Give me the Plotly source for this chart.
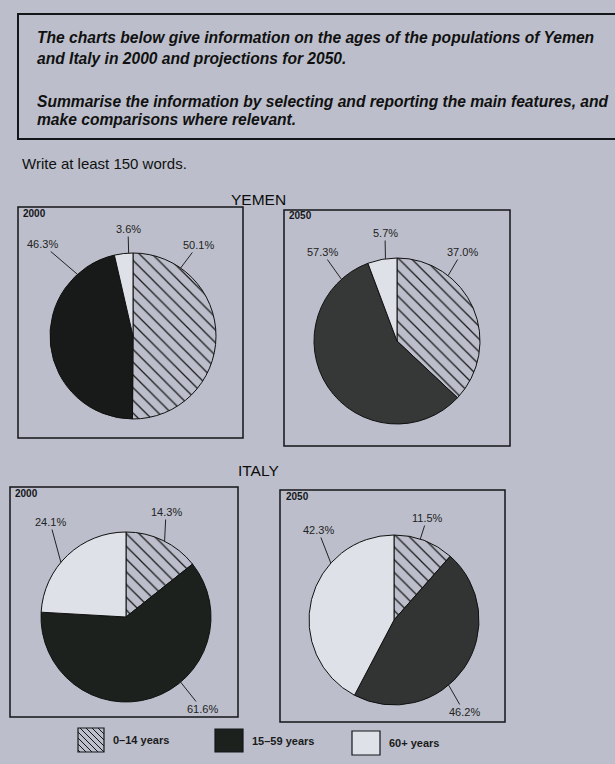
import math
import plotly.graph_objects as go

# ---------------- data ----------------
categories = ["0–14 years", "15–59 years", "60+ years"]
yemen_2000 = [50.1, 46.3, 3.6]
yemen_2050 = [37.0, 57.3, 5.7]
italy_2000 = [14.3, 61.6, 24.1]
italy_2050 = [11.5, 46.2, 42.3]
years = ["2000", "2050", "2000", "2050"]
countries = ["YEMEN", "ITALY"]

# ---------------- styling / layout ----------------
W, H = 615, 764
PAPER = "#bcbfcb"
WHITE = "#dfe1e8"
INK = "#15161a"
FONT = "Liberation Sans"


def px(x, y):
    return x / W, 1 - y / H


pies = [
    dict(v=yemen_2000, cx=133, cy=336, r=83, dark="#171a18", box=(18, 207, 243, 438), yl=(21, 213),
         lab=[(35, 198, 245), (-42, 42, 244), (-3, 128, 229)]),
    dict(v=yemen_2050, cx=397, cy=341, r=83, dark="#363737", box=(284, 210, 510, 446), yl=(287, 216),
         lab=[(38, 462, 252), (-42, 322, 252), (-8, 385, 233)]),
    dict(v=italy_2000, cx=126, cy=617, r=85, dark="#1d211e", box=(10, 487, 238, 717), yl=(13, 493),
         lab=[(27, 166, 512), (140, 202, 709), (-50, 50, 522)]),
    dict(v=italy_2050, cx=394, cy=620, r=85, dark="#313432", box=(280, 490, 505, 722), yl=(284, 496),
         lab=[(18, 427, 518), (140, 464, 712), (-48, 318, 530)]),
]

fig = go.Figure()
shapes = []
annotations = []

for i, p in enumerate(pies):
    cx, cy, r = p["cx"], p["cy"], p["r"]
    fig.add_trace(go.Pie(
        labels=categories,
        values=p["v"],
        sort=False,
        direction="clockwise",
        rotation=0,
        textinfo="none",
        hoverinfo="label+percent",
        showlegend=False,
        domain=dict(x=[(cx - r) / W, (cx + r) / W], y=[1 - (cy + r) / H, 1 - (cy - r) / H]),
        marker=dict(
            colors=[PAPER, p["dark"], WHITE],
            line=dict(color="#101010", width=1),
            pattern=dict(
                shape=["\\", "", ""],
                fgcolor=["#1a1a1a", p["dark"], WHITE],
                bgcolor=[PAPER, p["dark"], WHITE],
                size=9,
                solidity=0.14,
            ),
        ),
    ))
    x0, y0, x1, y1 = p["box"]
    shapes.append(dict(type="rect", xref="paper", yref="paper",
                       x0=x0 / W, x1=x1 / W, y0=1 - y1 / H, y1=1 - y0 / H,
                       line=dict(color=INK, width=1.5), fillcolor="rgba(0,0,0,0)", layer="below"))
    yx, yy = px(*p["yl"])
    annotations.append(dict(text="<b>%s</b>" % years[i], x=yx, y=yy, xref="paper", yref="paper",
                            xanchor="left", yanchor="middle", showarrow=False,
                            font=dict(family=FONT, size=10, color=INK)))
    for val, (ang, tx, ty) in zip(p["v"], p["lab"]):
        ex = cx + r * math.sin(math.radians(ang))
        ey = cy - r * math.cos(math.radians(ang))
        exp, eyp = px(ex, ey)
        annotations.append(dict(text="%.1f%%" % val, x=exp, y=eyp, xref="paper", yref="paper",
                                ax=tx - ex, ay=ty - ey, axref="pixel", ayref="pixel",
                                showarrow=True, arrowhead=0, arrowwidth=1, arrowcolor="#222",
                                standoff=0, font=dict(family=FONT, size=11, color="#222")))

# header box
shapes.append(dict(type="rect", xref="paper", yref="paper",
                   x0=18 / W, x1=640 / W, y0=1 - 139 / H, y1=1 - 14 / H,
                   line=dict(color=INK, width=2), fillcolor="rgba(0,0,0,0)"))

header_lines = [
    ("The charts below give information on the ages of the populations of Yemen", 38),
    ("and Italy in 2000 and projections for 2050.", 59),
    ("Summarise the information by selecting and reporting the main features, and", 101),
    ("make comparisons where relevant.", 119),
]
for t, yy in header_lines:
    annotations.append(dict(text="<b><i>%s</i></b>" % t, x=35 / W, y=1 - yy / H, xref="paper", yref="paper",
                            xanchor="left", yanchor="middle", showarrow=False,
                            font=dict(family=FONT, size=15.6, color="#111")))

annotations.append(dict(text="Write at least 150 words.", x=20 / W, y=1 - 163 / H, xref="paper", yref="paper",
                        xanchor="left", yanchor="middle", showarrow=False,
                        font=dict(family=FONT, size=15, color="#111")))

for name, yy in zip(countries, [199, 470]):
    annotations.append(dict(text=name, x=258 / W, y=1 - yy / H, xref="paper", yref="paper",
                            xanchor="center", yanchor="middle", showarrow=False,
                            font=dict(family=FONT, size=15.5, color="#0c0c0c")))

# legend (manual)
legend_items = [
    (78, 728, 104, 752, "hatch"),
    (215, 729, 243, 752, "dark"),
    (352, 731, 380, 755, "white"),
]
fills = {"hatch": PAPER, "dark": "#1d211e", "white": WHITE}
for (x0, y0, x1, y1, kind), cat in zip(legend_items, categories):
    shapes.append(dict(type="rect", xref="paper", yref="paper",
                       x0=x0 / W, x1=x1 / W, y0=1 - y1 / H, y1=1 - y0 / H,
                       line=dict(color=INK, width=1.2), fillcolor=fills[kind]))
    if kind == "hatch":
        step = 6
        c = (y0 - x1) + step
        while c < (y1 - x0):
            xa = max(x0, y0 - c)
            xb = min(x1, y1 - c)
            if xb > xa:
                shapes.append(dict(type="line", xref="paper", yref="paper",
                                   x0=xa / W, y0=1 - (xa + c) / H, x1=xb / W, y1=1 - (xb + c) / H,
                                   line=dict(color=INK, width=1)))
            c += step
    annotations.append(dict(text="<b>%s</b>" % cat, x=(x1 + 7) / W, y=1 - ((y0 + y1) / 2) / H,
                            xref="paper", yref="paper", xanchor="left", yanchor="middle",
                            showarrow=False, font=dict(family=FONT, size=11, color="#1a1a1a")))

fig.update_layout(
    width=W, height=H,
    margin=dict(l=0, r=0, t=0, b=0),
    paper_bgcolor=PAPER,
    plot_bgcolor=PAPER,
    shapes=shapes,
    annotations=annotations,
    showlegend=False,
)

fig.write_html(
    "out.html",
    config={"displayModeBar": False},
    post_script="document.body.style.margin='0';document.body.style.overflow='hidden';"
                "document.body.style.background='%s';" % PAPER,
)
